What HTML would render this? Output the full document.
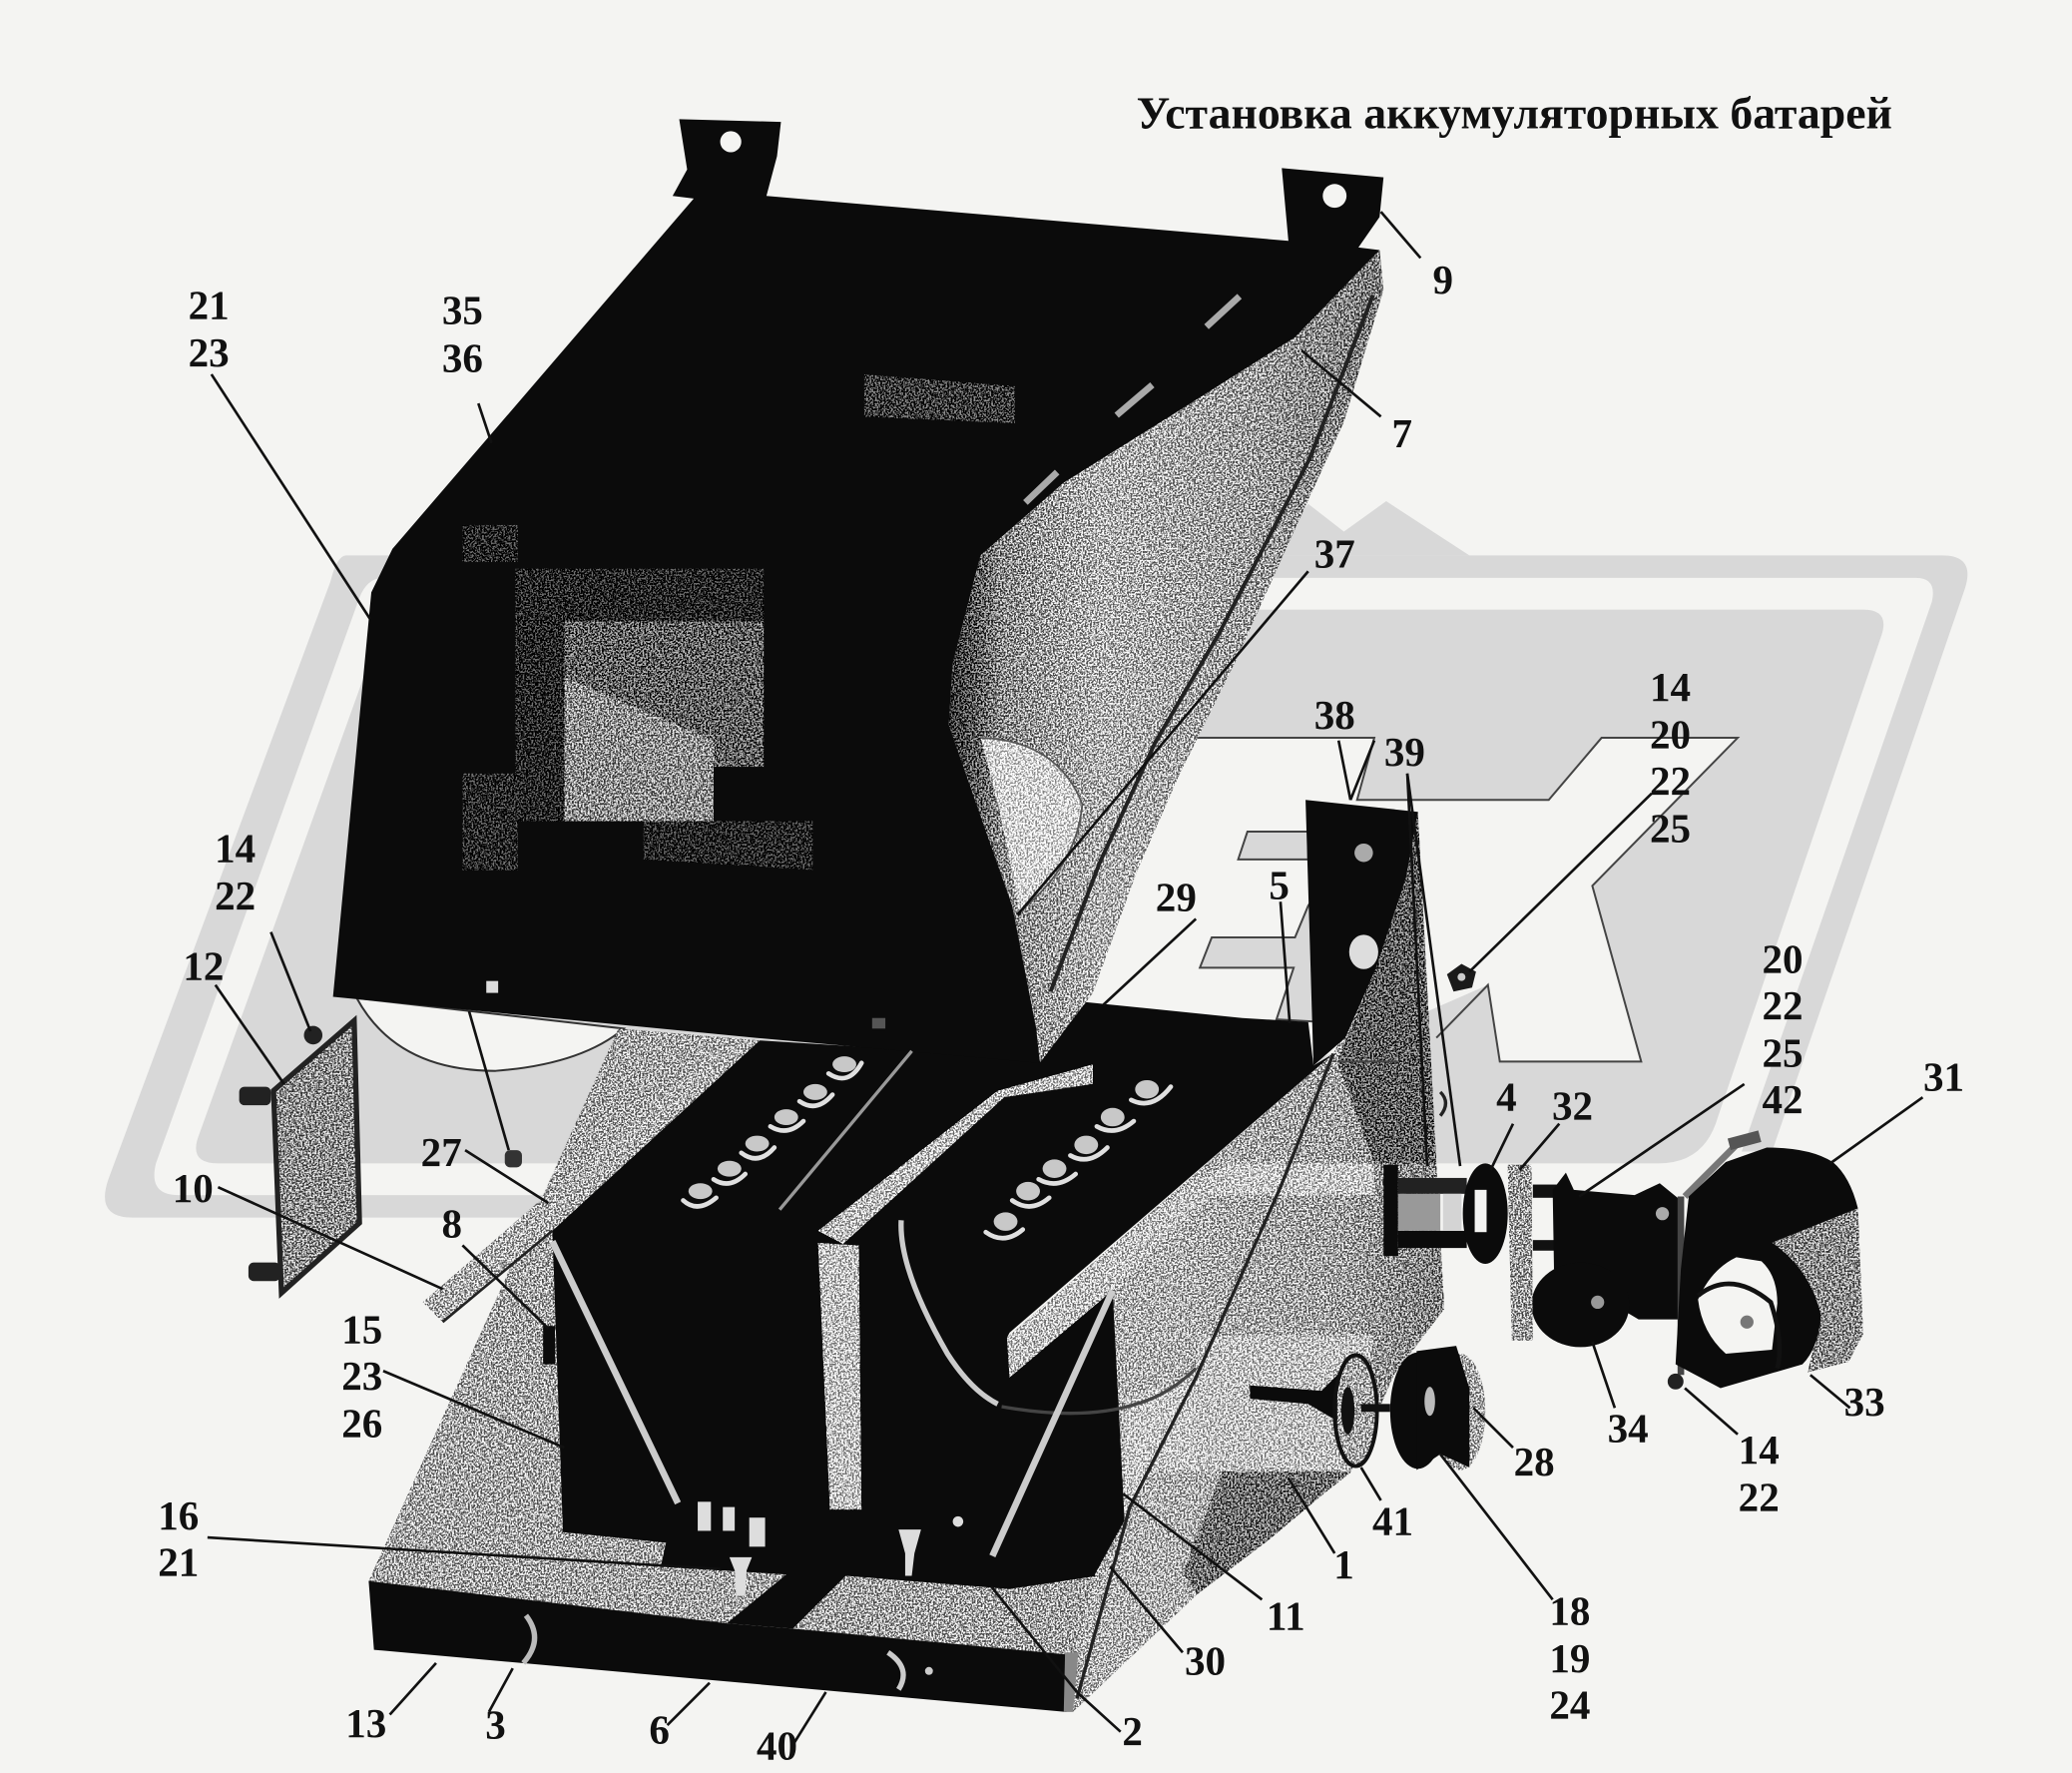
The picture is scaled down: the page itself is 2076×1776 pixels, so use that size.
<!DOCTYPE html>
<html lang="ru"><head><meta charset="utf-8"><title>Установка аккумуляторных батарей</title>
<style>
html,body{margin:0;padding:0;background:#f4f4f2;width:2076px;height:1776px;overflow:hidden}
svg{display:block}
text{font-family:"Liberation Serif","Noto Serif CJK SC",serif;font-weight:bold;fill:#111;font-size:31px;text-anchor:middle}
.l line{stroke:#111;stroke-width:2}
</style></head><body>
<svg width="2076" height="1776" viewBox="0 0 1568 1341" xmlns="http://www.w3.org/2000/svg">
<defs>
<filter id="n" x="0" y="0" width="100%" height="100%" color-interpolation-filters="sRGB">
<feTurbulence type="fractalNoise" baseFrequency="0.75" numOctaves="2" seed="4" result="t"/>
<feColorMatrix in="t" type="matrix" values="1 0 0 0 0 1 0 0 0 0 1 0 0 0 0 0 0 0 0 1" result="g"/>
<feComponentTransfer in="g" result="c"><feFuncR type="linear" slope="5" intercept="-2"/><feFuncG type="linear" slope="5" intercept="-2"/><feFuncB type="linear" slope="5" intercept="-2"/></feComponentTransfer>
<feComposite in="SourceGraphic" in2="c" operator="arithmetic" k1="0" k2="1" k3="0.75" k4="-0.375" result="m"/>
<feComposite in="m" in2="SourceAlpha" operator="in"/>
</filter>
<linearGradient id="side" gradientUnits="userSpaceOnUse" x1="718" y1="0" x2="1050" y2="0"><stop offset="0" stop-color="#222"/><stop offset=".12" stop-color="#8a8a8a"/><stop offset=".35" stop-color="#b4b4b4"/><stop offset=".7" stop-color="#9c9c9c"/><stop offset="1" stop-color="#777"/></linearGradient>
<linearGradient id="rp" gradientUnits="userSpaceOnUse" x1="880" y1="0" x2="1090" y2="0"><stop offset="0" stop-color="#b4b4b4"/><stop offset=".65" stop-color="#a0a0a0"/><stop offset="1" stop-color="#808080"/></linearGradient>
</defs>
<rect width="1568" height="1341" fill="#f4f4f2"/>

<!-- watermark -->
<path d="M262 420H1470Q1495 420 1487 445L1341 871H1318L1462 455Q1466 437 1450 437H290Q278 437 272 452L118 880Q112 904 135 904H520V921H100Q72 921 82 892L250 440Q255 420 262 420Z" fill="#d8d8d8"/>
<path d="M310 461H1410Q1430 461 1424 480L1300 845Q1290 880 1255 880H165Q143 880 150 860L285 485Q293 461 310 461Z" fill="#d8d8d8"/>
<polygon points="960,420 990,381 1017,402 1049,379 1112,420" fill="#d8d8d8"/>
<!-- white letters -->
<polygon points="780,700 880,558 1040,558 1027,605 1172,605 1212,558 1315,558 1205,670 1242,803 1135,803 1126,745 1000,800 800,800" fill="#f4f4f2"/>
<polyline points="880,558 1040,558 1027,605 1172,605 1212,558 1315,558 1205,670 1242,803 1135,803 1126,745 1087,785" fill="none" stroke="#444" stroke-width="1.5"/>
<polygon points="944,629 990,629 990,650 937,650" fill="#d8d8d8" stroke="#444" stroke-width="1.5"/>
<polygon points="1000,670 990,685 980,709 917,709 908,732 979,732 966,771 1000,773" fill="#d8d8d8" stroke="#444" stroke-width="1.5"/>
<path d="M270 755Q300 810 375 810Q440 805 472 778Z" fill="#f4f4f2" stroke="#333" stroke-width="1.5"/>

<!-- left panel + panels under black -->
<g filter="url(#n)">
<polygon points="468,778 575,787 418,931 426,1159 504,1167 500,1185 595,1191 550,1228 279,1196" fill="#a6a6a6"/>
<polygon points="207,825 268,772 272,925 213,978" fill="#8e8e8e"/>
<polygon points="600,1232 640,1192 764,1202 829,1192 812,1252" fill="#a4a4a4"/>
</g>

<!-- box interior black -->
<polygon points="418,931 575,787 784,800 822,758 940,770 990,773 994,806 1009,797 764,1008 762,1012 842,976 851,1150 845,1190 764,1202 640,1192 600,1232 550,1228 595,1191 500,1185 504,1167 426,1159" fill="#0b0b0b"/>
<polygon points="411,1003 420,1003 420,1032 411,1032" fill="#0b0b0b"/>
<polygon points="279,1196 550,1228 600,1232 812,1252 807,1295 283,1248" fill="#0b0b0b"/>

<!-- right panel -->
<g filter="url(#n)">
<polygon points="1073,614 1087,880 1093,990 1055,1040 1022,1114 906,1206 812,1295 812,1250 829,1190 851,1150 842,976 764,1042 762,1012 1009,797 1041,733 1064,664" fill="url(#rp)"/>
<polygon points="1073,614 1087,880 1040,880 1012,803 1041,733 1064,664" fill="#5c5c5c"/>
<polygon points="930,880 1040,880 1040,904 905,904 915,890" fill="#cfcfcf"/>
<polygon points="906,1010 1040,1010 1022,1113 906,1113" fill="#c8c8c8"/>
<polygon points="851,1060 905,1040 906,1113 870,1110 851,1150" fill="#d0d0d0"/>
<polygon points="925,1113 1022,1113 960,1165 906,1206 895,1190" fill="#6e6e6e"/>
<polygon points="764,1042 762,1012 906,890 930,890 842,976" fill="#c6c6c6"/>
</g>
<path d="M1009 797L969 898L905 1042L855 1140L815 1285" fill="none" stroke="#222" stroke-width="2.5"/>
<line x1="1012" y1="803" x2="1058" y2="803" stroke="#444" stroke-width="1.5"/>
<path d="M1090 826q8 8 0 18" fill="none" stroke="#222" stroke-width="2.5"/>
<path d="M758 1064Q820 1075 860 1062Q885 1055 905 1035" stroke="#444" stroke-width="2.5" fill="none"/>

<!-- bracket -->
<polygon points="988,605 1073,614 1064,664 1041,733 1018,785 994,806" fill="#0b0b0b"/>
<circle cx="1032" cy="645" r="7" fill="#aaa"/><ellipse cx="1032" cy="720" rx="11" ry="13" fill="#ddd"/>

<!-- lid -->
<polygon points="514,90 591,92 588,118 580,148 975,182 970,127 1047,134 1044,164 1028,187 1044,189 980,255 885,315 805,365 742,420 721,502 718,548 742,617 766,685 784,777 787,804 572,785 252,754 281,448 297,415 525,150 509,148 520,128" fill="#0b0b0b"/>
<circle cx="553" cy="107" r="8" fill="#f4f4f2"/><circle cx="1010" cy="148" r="9" fill="#f4f4f2"/>
<g filter="url(#n)">
<polygon points="427,470 578,470 578,580 540,580 540,621 427,621" fill="#5e5e5e"/>
<polygon points="427,512 540,560 540,621 427,621" fill="#8e8e8e"/>
<polygon points="390,430 578,430 578,470 427,470 427,621 390,621" fill="#101010"/>
<polygon points="350,397 392,397 392,425 350,425" fill="#0f0f0f"/>
<polygon points="350,585 392,585 392,658 350,658" fill="#141414"/>
<polygon points="654,283 768,292 768,320 654,315" fill="#2e2e2e"/>
<polygon points="487,621 615,621 615,658 487,650" fill="#101010"/>
<!-- side -->
<polygon points="1044,189 1047,219 1017,319 975,411 935,500 891,589 860,660 827,751 787,804 784,777 766,685 742,617 718,548 721,502 742,420 805,365 885,315 980,255" fill="url(#side)"/>
<path d="M742 558Q800 560 819 608Q815 655 771 690Q760 620 742 558Z" fill="#e4e4e4"/>
</g>
<path d="M742 558Q800 560 819 608Q815 655 771 690" fill="none" stroke="#555" stroke-width="1.3"/>
<polyline points="1039,223 991,347 922,480 874,562 832,653 795,750" fill="none" stroke="#222" stroke-width="3"/>
<g stroke="#aaa" stroke-width="5" fill="none"><line x1="776" y1="380" x2="800" y2="357"/><line x1="845" y1="314" x2="872" y2="291"/><line x1="913" y1="247" x2="938" y2="224"/></g>
<rect x="368" y="742" width="9" height="9" fill="#ddd"/>

<path d="M398 1222Q412 1240 396 1258" stroke="#bbb" stroke-width="4" fill="none"/>
<path d="M672 1250Q690 1262 680 1278" stroke="#ccc" stroke-width="4" fill="none"/>
<circle cx="703" cy="1264" r="3" fill="#ccc"/>
<polygon points="806,1250 816,1250 812,1295 805,1295" fill="#888"/>

<!-- light parts over black -->
<g filter="url(#n)">
<polygon points="320,985 545,790 573,787 418,931 335,1000" fill="#b0b0b0"/>
<polygon points="619,931 755,825 827,805 827,820 760,830 638,941" fill="#c4c4c4"/>
<polygon points="619,940 650,942 652,1142 628,1142" fill="#c8c8c8"/>
</g>
<line x1="335" y1="1000" x2="418" y2="931" stroke="#222" stroke-width="2"/>
<line x1="418" y1="939" x2="513" y2="1137" stroke="#ccc" stroke-width="5"/>
<line x1="842" y1="976" x2="751" y2="1177" stroke="#ccc" stroke-width="5"/>
<line x1="690" y1="795" x2="590" y2="915" stroke="#999" stroke-width="2.5"/>
<path d="M682 923Q680 960 717 1024Q735 1052 755 1062" stroke="#ccc" stroke-width="4" fill="none"/>
<!-- terminals -->
<g fill="#c8c8c8" stroke="none">
<ellipse cx="530" cy="901" rx="9" ry="6"/><ellipse cx="552" cy="884" rx="9" ry="6"/><ellipse cx="573" cy="865" rx="9" ry="6"/><ellipse cx="595" cy="845" rx="9" ry="6"/><ellipse cx="617" cy="826" rx="9" ry="6"/><ellipse cx="639" cy="805" rx="9" ry="6"/>
<ellipse cx="761" cy="924" rx="9" ry="7"/><ellipse cx="778" cy="901" rx="9" ry="7"/><ellipse cx="798" cy="884" rx="9" ry="7"/><ellipse cx="822" cy="866" rx="9" ry="7"/><ellipse cx="842" cy="845" rx="9" ry="7"/><ellipse cx="868" cy="824" rx="9" ry="7"/>
</g>
<g fill="none" stroke="#e0e0e0" stroke-width="3.5" stroke-linecap="round">
<path d="M517 908Q528 918 542 906M540 892Q552 900 564 888M561 872Q574 882 586 868M583 852Q596 860 608 848M605 833Q618 842 630 828M627 812Q642 822 652 804"/>
<path d="M746 932Q760 942 774 930M766 908Q780 918 794 906M786 892Q800 900 814 888M810 874Q824 882 838 868M830 852Q844 860 858 848M856 832Q872 840 886 822"/>
</g>
<g fill="#ddd">
<rect x="528" y="1136" width="10" height="22"/><rect x="547" y="1140" width="9" height="18"/>
<rect x="567" y="1148" width="12" height="22"/><polygon points="552,1178 569,1178 565,1188 564,1207 557,1207 556,1188"/>
<polygon points="680,1157 697,1157 692,1175 690,1192 685,1192 685,1175"/><circle cx="725" cy="1151" r="4"/>
<rect x="660" y="770" width="10" height="8" fill="#555"/>
</g>

<!-- panel 12 -->
<polygon points="207,825 268,772 272,925 213,978" fill="none" stroke="#222" stroke-width="4"/>
<g fill="#222"><rect x="181" y="822" width="24" height="14" rx="4"/><rect x="188" y="955" width="24" height="14" rx="4"/><circle cx="237" cy="783" r="7"/></g>
<rect x="382" y="870" width="13" height="13" rx="4" fill="#333"/>

<!-- right assembly -->
<rect x="1047" y="881" width="11" height="69" fill="#0b0b0b"/>
<rect x="1058" y="891" width="52" height="12" fill="#222"/>
<rect x="1058" y="931" width="52" height="13" fill="#0b0b0b"/>
<rect x="1058" y="903" width="32" height="28" fill="#999"/>
<rect x="1092" y="903" width="14" height="28" fill="#d4d4d4"/>
<ellipse cx="1124" cy="918" rx="17" ry="38" fill="#0b0b0b"/>
<rect x="1116" y="900" width="9" height="32" fill="#f4f4f2"/>
<rect x="1160" y="896" width="20" height="10" fill="#111"/>
<rect x="1160" y="938" width="20" height="8" fill="#111"/>
<polygon points="1175,900 1185,887 1191,900 1237,904 1256,895 1272,908 1273,998 1240,998 1176,960" fill="#0b0b0b"/>
<ellipse cx="1196" cy="987" rx="37" ry="32" fill="#0b0b0b"/>
<circle cx="1209" cy="985" r="5" fill="#999"/>
<circle cx="1258" cy="918" r="5" fill="#aaa"/>
<g filter="url(#n)">
<polygon points="1141,881 1159,881 1160,1014 1144,1014" fill="#9c9c9c"/>
<polygon points="1341,940 1406,914 1410,1009 1399,1030 1368,1038 1378,995 1368,975" fill="#8c8c8c"/>
<ellipse cx="1105" cy="1068" rx="19" ry="44" fill="#aaa"/>
<ellipse cx="1026" cy="1067" rx="16" ry="42" fill="#aaa"/>
</g>
<line x1="1272" y1="905" x2="1272" y2="1040" stroke="#444" stroke-width="5"/>
<line x1="1275" y1="905" x2="1315" y2="865" stroke="#777" stroke-width="5"/>
<path d="M1278 905L1306 879L1337 868Q1370 868 1387 879Q1400 890 1406 914L1341 940Q1370 960 1378 995Q1376 1020 1364 1032L1302 1050L1268 1032L1272 960Z" fill="#0b0b0b"/>
<path d="M1285 983Q1295 960 1314 951L1333 954Q1345 965 1345 986L1341 1021L1306 1024Q1288 1008 1285 983Z" fill="#f4f4f2"/>
<path d="M1285 980Q1310 960 1340 985Q1350 1015 1345 1035" fill="none" stroke="#111" stroke-width="3.5"/>
<circle cx="1322" cy="1000" r="5" fill="#777"/>
<circle cx="1268" cy="1045" r="6" fill="#222"/>
<rect x="1308" y="858" width="24" height="9" fill="#555" transform="rotate(-15 1320 862)"/>
<!-- 41 / 28 group -->
<polygon points="946,1048 1000,1052 1012,1040 1012,1075 990,1062 946,1058" fill="#0b0b0b"/>
<ellipse cx="1026" cy="1067" rx="16" ry="42" fill="none" stroke="#111" stroke-width="3"/>
<ellipse cx="1020" cy="1067" rx="5" ry="18" fill="#111"/>
<rect x="1030" y="1062" width="22" height="6" fill="#111"/>
<ellipse cx="1073" cy="1067" rx="21" ry="44" fill="#0b0b0b"/>
<polygon points="1072,1022 1102,1018 1112,1050 1112,1110 1090,1100 1072,1112" fill="#0b0b0b"/>
<ellipse cx="1082" cy="1060" rx="4" ry="11" fill="#bbb"/>
<!-- nut -->
<path d="M1095 737L1106 729L1117 735L1114 747L1100 750Z" fill="#1a1a1a"/><circle cx="1106" cy="739" r="3" fill="#ccc"/>

<!-- leaders -->
<g class="l">
<line x1="160" y1="283" x2="280" y2="468"/><line x1="362" y1="305" x2="372" y2="335"/>
<line x1="1075" y1="195" x2="1045" y2="160"/><line x1="1045" y1="315" x2="985" y2="265"/>
<line x1="990" y1="432" x2="770" y2="692"/>
<line x1="1013" y1="560" x2="1022" y2="605"/><line x1="1040" y1="560" x2="1022" y2="605"/>
<line x1="1065" y1="585" x2="1105" y2="882"/><line x1="1065" y1="585" x2="1080" y2="882"/>
<line x1="1250" y1="600" x2="1112" y2="735"/>
<line x1="969" y1="682" x2="976" y2="774"/><line x1="905" y1="695" x2="835" y2="760"/>
<line x1="205" y1="705" x2="235" y2="780"/><line x1="163" y1="745" x2="215" y2="820"/>
<line x1="165" y1="898" x2="335" y2="975"/><line x1="352" y1="870" x2="415" y2="910"/>
<line x1="350" y1="942" x2="415" y2="1005"/><line x1="290" y1="1037" x2="427" y2="1095"/>
<line x1="157" y1="1163" x2="545" y2="1187"/><line x1="330" y1="1258" x2="295" y2="1297"/>
<line x1="388" y1="1262" x2="370" y2="1295"/><line x1="537" y1="1273" x2="505" y2="1305"/>
<line x1="625" y1="1280" x2="600" y2="1320"/><line x1="750" y1="1200" x2="815" y2="1280"/><line x1="815" y1="1280" x2="848" y2="1310"/>
<line x1="840" y1="1185" x2="895" y2="1250"/><line x1="850" y1="1130" x2="955" y2="1210"/>
<line x1="975" y1="1118" x2="1010" y2="1175"/><line x1="1030" y1="1110" x2="1045" y2="1135"/>
<line x1="1115" y1="1065" x2="1145" y2="1095"/><line x1="1090" y1="1100" x2="1175" y2="1210"/>
<line x1="1145" y1="850" x2="1128" y2="885"/><line x1="1180" y1="850" x2="1150" y2="885"/>
<line x1="1320" y1="820" x2="1195" y2="905"/><line x1="1455" y1="830" x2="1385" y2="880"/>
<line x1="1205" y1="1015" x2="1222" y2="1065"/><line x1="1370" y1="1040" x2="1400" y2="1065"/>
<line x1="1275" y1="1050" x2="1315" y2="1085"/>
</g>
<line x1="355" y1="765" x2="385" y2="870" stroke="#111" stroke-width="2"/>

<!-- labels -->
<text x="860" y="97" textLength="572" lengthAdjust="spacingAndGlyphs" style="text-anchor:start;font-size:34px">Установка аккумуляторных батарей</text>
<text x="158" y="241">21</text><text x="158" y="277">23</text>
<text x="350" y="245">35</text><text x="350" y="281">36</text>
<text x="1092" y="222">9</text><text x="1061" y="338">7</text><text x="1010" y="429">37</text>
<text x="1010" y="551">38</text><text x="1063" y="579">39</text>
<text x="1264" y="530">14</text><text x="1264" y="566">20</text><text x="1264" y="601">22</text><text x="1264" y="637">25</text>
<text x="968" y="680">5</text><text x="890" y="689">29</text>
<text x="178" y="652">14</text><text x="178" y="688">22</text><text x="154" y="741">12</text>
<text x="146" y="909">10</text><text x="334" y="882">27</text><text x="342" y="936">8</text>
<text x="274" y="1016">15</text><text x="274" y="1051">23</text><text x="274" y="1087">26</text>
<text x="135" y="1157">16</text><text x="135" y="1192">21</text>
<text x="277" y="1314">13</text><text x="375" y="1315">3</text><text x="499" y="1319">6</text><text x="588" y="1331">40</text>
<text x="857" y="1320">2</text><text x="912" y="1267">30</text><text x="973" y="1233">11</text><text x="1017" y="1194">1</text>
<text x="1054" y="1161">41</text><text x="1161" y="1116">28</text>
<text x="1188" y="1229">18</text><text x="1188" y="1265">19</text><text x="1188" y="1300">24</text>
<text x="1140" y="840">4</text><text x="1190" y="847">32</text>
<text x="1349" y="736">20</text><text x="1349" y="771">22</text><text x="1349" y="807">25</text><text x="1349" y="842">42</text>
<text x="1471" y="825">31</text><text x="1232" y="1091">34</text><text x="1411" y="1071">33</text>
<text x="1331" y="1107">14</text><text x="1331" y="1143">22</text>
</svg>
</body></html>
